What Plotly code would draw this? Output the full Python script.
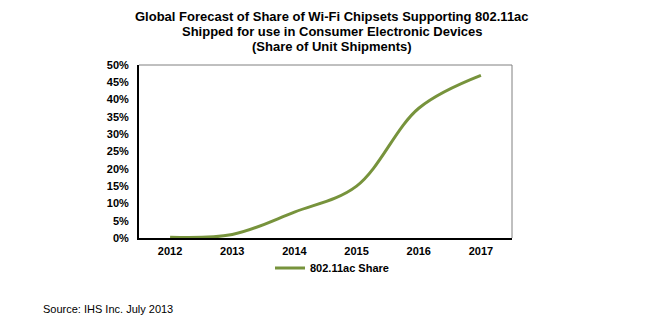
import plotly.graph_objects as go

years = ["2012", "2013", "2014", "2015", "2016", "2017"]
share = [0.002, 0.01, 0.075, 0.15, 0.375, 0.47]
series_name = "802.11ac Share"
title_lines = [
    "Global Forecast of Share of Wi-Fi Chipsets Supporting 802.11ac",
    "Shipped for use in Consumer Electronic Devices",
    "(Share of Unit Shipments)",
]
source_text = "Source: IHS Inc. July 2013"

FONT = "Liberation Sans, Arial, sans-serif"
L, R, T, B = 139, 140, 65, 93
W, H = 652, 331
ph = H - T - B


def py(ypx):
    return (H - B - ypx) / ph


fig = go.Figure()
fig.add_trace(go.Scatter(
    x=years, y=share, mode="lines", name=series_name,
    line=dict(color="#77933C", width=3, shape="spline", smoothing=1.0),
))

annotations = []
for txt, ypx in zip(title_lines, [16.5, 31.5, 46.5]):
    annotations.append(dict(
        text=txt, xref="paper", yref="paper", x=(332 - L) / (W - L - R), y=py(ypx),
        xanchor="center", yanchor="middle", showarrow=False,
        font=dict(family=FONT, size=13, color="#000000", weight="bold"),
    ))
annotations.append(dict(
    text=source_text, xref="paper", yref="paper", x=(41 - L) / (W - L - R), y=py(309),
    xanchor="left", yanchor="middle", showarrow=False,
    font=dict(family=FONT, size=11, color="#000000"),
))

shapes = [
    dict(type="line", xref="paper", yref="paper", x0=0, x1=1, y0=1, y1=1,
         line=dict(color="#808080", width=1)),
    dict(type="line", xref="paper", yref="paper", x0=1, x1=1, y0=0, y1=1,
         line=dict(color="#808080", width=1)),
]

fig.update_layout(
    width=W, height=H,
    margin=dict(l=L, r=R, t=T, b=B),
    paper_bgcolor="white", plot_bgcolor="white",
    annotations=annotations, shapes=shapes,
    showlegend=True,
    legend=dict(
        x=(332 - L) / (W - L - R), y=py(268), xanchor="center", yanchor="middle",
        orientation="h", itemwidth=30, bgcolor="rgba(0,0,0,0)",
        font=dict(family=FONT, size=11, color="#000000", weight="bold"),
    ),
    xaxis=dict(
        type="category", range=[-0.5, 5.5], showgrid=False, zeroline=False,
        showline=True, linecolor="#000000", linewidth=2, ticks="",
        tickfont=dict(family=FONT, size=11, color="#000000", weight="bold"),
        ticklabelstandoff=2,
    ),
    yaxis=dict(
        range=[0, 0.5], dtick=0.05, tickformat=".0%", showgrid=False, zeroline=False,
        showline=True, linecolor="#000000", linewidth=2, ticks="",
        tickfont=dict(family=FONT, size=11, color="#000000", weight="bold"),
        ticklabelstandoff=6,
    ),
)

fig.write_html("out.html")
